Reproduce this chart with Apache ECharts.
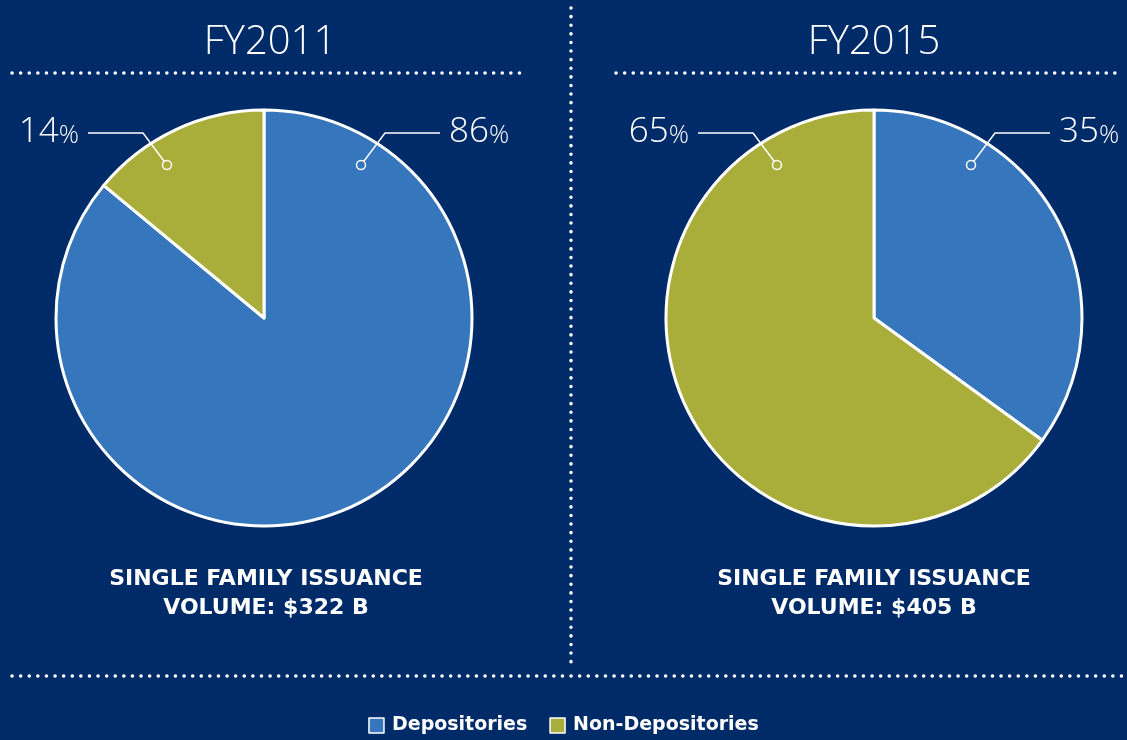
<!DOCTYPE html>
<html>
<head>
<meta charset="utf-8">
<style>
  html, body { margin: 0; padding: 0; background: #002b69; }
  #chart { width: 1127px; height: 740px; }
</style>
<script src="https://cdn.jsdelivr.net/npm/echarts@6/dist/echarts.min.js"></script>
</head>
<body>
<div id="chart"></div>
<script>
// data
const categories = ['Depositories', 'Non-Depositories']
const years = ['FY2011', 'FY2015']
const fy2011 = [86, 14]
const fy2015 = [35, 65]
const volumes = ['$322 B', '$405 B']

const BG = '#002b69'
const COLORS = ['#3576bd', '#a9ad3a']
const LIGHT = '"Open Sans", "Noto Sans", sans-serif'
const WIDE = '"DejaVu Sans", sans-serif'

const centers = [[264, 318], [874, 318]]
const R = 208
const titleShift = [6, 0]

const chart = echarts.init(document.getElementById('chart'))

// label line geometry relative to a pie center: dot, elbow, end
function guide(cx, cy, side) {
  return [
    [cx + side * 97, cy - 153],
    [cx + side * 121, cy - 185],
    [cx + side * 176, cy - 185]
  ]
}

function pieSeries(name, values, idx) {
  return {
    name,
    type: 'pie',
    center: centers[idx],
    radius: R,
    startAngle: 90,
    clockwise: true,
    avoidLabelOverlap: false,
    emphasis: { disabled: true },
    itemStyle: { borderColor: '#fff', borderWidth: 3 },
    data: values.map((v, i) => ({ name: categories[i], value: v, itemStyle: { color: COLORS[i] } })),
    label: {
      show: true,
      position: 'outside',
      overflow: 'none',
      formatter: '{a|{c}}{b|%}',
      rich: {
        a: { color: '#fff', fontSize: 35, fontFamily: LIGHT, fontWeight: 300 },
        b: { color: '#fff', fontSize: 25, fontFamily: LIGHT, fontWeight: 300, padding: [7, 0, 0, 0] }
      }
    },
    labelLine: { show: false },
    labelLayout: (p) => {
      const [cx, cy] = centers[p.seriesIndex]
      const side = p.dataIndex === 0 ? 1 : -1
      return {
        x: cx + side * 185,
        y: cy - 186,
        align: side > 0 ? 'left' : 'right',
        verticalAlign: 'middle',
        hideOverlap: false
      }
    }
  }
}

// decorative elements: dotted dividers, titles, captions, label guides
const dotStyle = { stroke: '#fff', lineWidth: 3.5, lineDash: [0.1, 8.5], lineCap: 'round' }
const graphics = [
  { type: 'line', shape: { x1: 12, y1: 73, x2: 524, y2: 73 }, style: dotStyle, silent: true },
  { type: 'line', shape: { x1: 616, y1: 73, x2: 1122, y2: 73 }, style: dotStyle, silent: true },
  { type: 'line', shape: { x1: 571, y1: 8, x2: 571, y2: 662 }, style: dotStyle, silent: true },
  { type: 'line', shape: { x1: 12, y1: 676, x2: 1122, y2: 676 }, style: dotStyle, silent: true }
]
years.forEach((y, i) => {
  const [cx, cy] = centers[i]
  graphics.push({
    type: 'text', x: cx + titleShift[i], y: 43,
    style: { text: y, fill: '#fff', fontSize: 40, fontFamily: LIGHT, fontWeight: 300, align: 'center', verticalAlign: 'middle' }
  })
  graphics.push({
    type: 'text', x: cx + titleShift[i] / 3, y: 594,
    style: {
      text: 'SINGLE FAMILY ISSUANCE\nVOLUME: ' + volumes[i], fill: '#fff', fontSize: 22, fontWeight: 'bold',
      fontFamily: WIDE, align: 'center', verticalAlign: 'middle', lineHeight: 29
    }
  })
  ;[1, -1].forEach(side => {
    const pts = guide(cx, cy, side)
    graphics.push({
      type: 'polyline', z: 100, silent: true,
      shape: { points: pts },
      style: { stroke: '#fff', lineWidth: 1.5, fill: null }
    })
    graphics.push({
      type: 'circle', z: 101, silent: true,
      shape: { cx: pts[0][0], cy: pts[0][1], r: 4.5 },
      style: { fill: COLORS[side > 0 ? 0 : 1], stroke: '#fff', lineWidth: 1.5 }
    })
  })
})

chart.setOption({
  backgroundColor: BG,
  animation: false,
  legend: {
    data: categories,
    bottom: 0,
    left: 'center',
    icon: 'rect',
    itemWidth: 15,
    itemHeight: 15,
    itemGap: 22,
    itemStyle: { borderColor: '#fff', borderWidth: 1.5 },
    textStyle: { color: '#fff', fontSize: 19, fontWeight: 'bold', fontFamily: WIDE, padding: [0, 0, 0, 3] }
  },
  graphic: graphics,
  series: [pieSeries(years[0], fy2011, 0), pieSeries(years[1], fy2015, 1)]
})
</script>
</body>
</html>
